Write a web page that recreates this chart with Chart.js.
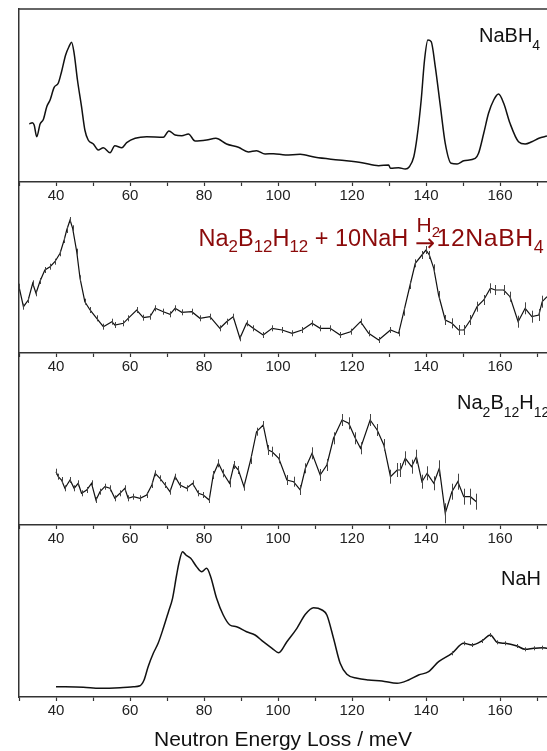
<!DOCTYPE html>
<html>
<head>
<meta charset="utf-8">
<script src="https://cdn.jsdelivr.net/npm/chart.js@4.4.0/dist/chart.umd.min.js"></script>
<style>
  html, body { margin: 0; padding: 0; background: #fff; width: 547px; height: 751px; overflow: hidden; }
  .panel { position: absolute; left: 0; }
  .lbl { position: absolute; font-family: "Liberation Sans", Arial, sans-serif; line-height: 1; white-space: nowrap; color: #111; font-size: 20px; }
  .lbl sub { font-size: 0.7em; vertical-align: -0.6em; line-height: 0; }
  .eq { color: #8b0a0a; font-size: 24px; }
  .eq sub { font-size: 0.72em; vertical-align: -0.38em; }
  .eq.gas sub { vertical-align: -0.3em; }
  .arrow { font-family: "DejaVu Sans", sans-serif; }
</style>
</head>
<body>
<canvas class="panel" id="p0" width="547" height="213" style="top:-1px"></canvas>
<canvas class="panel" id="p1" width="547" height="211" style="top:172px"></canvas>
<canvas class="panel" id="p2" width="547" height="212" style="top:343px"></canvas>
<canvas class="panel" id="p3" width="547" height="238" style="top:515px"></canvas>

<div class="lbl" style="left:479px;top:25px">NaBH<sub>4</sub></div>
<div class="lbl eq" style="left:198.5px;top:226.8px;font-size:23.5px">Na<sub>2</sub>B<sub>12</sub>H<sub>12</sub> + 10NaH</div>
<div class="lbl eq arrow" style="left:415px;top:230.5px">&rarr;</div>
<div class="lbl eq gas" style="left:416.5px;top:214px;font-size:21px">H<sub>2</sub></div>
<div class="lbl eq" style="left:436.5px;top:225.8px;font-size:24.8px;letter-spacing:0.6px">12NaBH<sub>4</sub></div>
<div class="lbl" style="left:457px;top:392px">Na<sub>2</sub>B<sub>12</sub>H<sub>12</sub></div>
<div class="lbl" style="left:501px;top:568px">NaH</div>

<script>
// x axis (meV)
const xMin = 30;
const xMax = 172.7;
const xTickValues = [30, 40, 50, 60, 70, 80, 90, 100, 110, 120, 130, 140, 150, 160, 170];
const xTickLabels = [40, 60, 80, 100, 120, 140, 160];

// NaBH4
const nabh4E = [32.8, 33.6, 34.1, 34.8, 35.7, 36.6, 37.5, 38.4, 39.5, 40.6, 41.5, 42.6, 43.5, 44.2, 44.9, 45.8, 46.9, 47.8, 48.7, 50.1,
  51.4, 52.8, 54.6, 55.9, 57.8, 59.1, 61.4, 64.5, 69.0, 70.5, 72.2, 74.0, 75.8, 77.6, 80.7, 83.2, 86.1, 89.3, 92.0, 94.2,
  96.5, 98.8, 102.0, 106.0, 110.1, 116.4, 122.7, 127.2, 129.9, 130.4, 132.6, 134.4, 135.5, 136.7, 137.6, 138.7, 139.6, 140.5, 141.4, 142.5,
  143.9, 145.2, 146.8, 148.4, 150.2, 153.3, 154.2, 155.6, 156.9, 158.3, 159.6, 161.0, 162.7, 165.0, 166.8, 168.6, 170.5, 172.7];
const nabh4I = [58, 59.3, 57, 45.3, 58, 62.7, 75.3, 82, 94.7, 98.7, 110.3, 127, 135.3, 139.7, 128.7, 102, 75.3, 52, 42, 38,
  32, 34.3, 29.3, 36.3, 34.3, 39.3, 43.7, 45.3, 44.7, 51, 47, 46.3, 48, 41, 42, 43.7, 38, 34.7, 30, 31.3,
  28, 28.3, 27, 27.7, 24.7, 22, 19.3, 16.3, 17, 13.7, 14.3, 13, 15.3, 25.3, 45.3, 82, 122, 142, 140.3, 115.3,
  75.3, 38.7, 18.7, 18, 21.3, 23.7, 28.7, 48.7, 68.7, 82, 88, 78.7, 58.7, 40.3, 38, 40.3, 43.7, 46];

// Na2B12H12 + 10NaH mixture
const mixE = [30, 31.2, 32.5, 33.7, 34.6, 35.7, 37.0, 38.4, 39.7, 41.1, 42.2, 42.9, 43.8, 44.5, 45.6, 46.5, 47.8, 49.2, 51.0, 52.8,
  55.1, 55.9, 58.2, 59.5, 61.8, 63.6, 65.4, 66.8, 69.0, 70.8, 72.2, 74.0, 76.7, 78.9, 81.6, 84.3, 86.1, 87.9, 89.7, 91.5,
  93.3, 96.0, 98.4, 101.1, 103.8, 106.5, 109.2, 111.4, 114.1, 116.8, 119.6, 122.3, 124.5, 127.2, 130.4, 132.6, 134.0, 135.7, 137.1, 138.9,
  140.0, 140.9, 142.1, 143.4, 145.2, 147.0, 148.8, 150.2, 152.0, 153.8, 155.6, 157.4, 158.7, 161.0, 162.7, 164.9, 166.8, 168.6, 170.5, 171.4, 172.7];
const mixI = [66.3, 46.3, 53, 69.7, 59.7, 72, 83, 86.3, 91.3, 99.7, 113, 123, 133, 124.7, 101.3, 74.7, 51.3, 43, 34.7, 26.3,
  31.3, 28, 29.7, 34.7, 43, 35.3, 36.3, 44.7, 41.3, 38.7, 44.7, 40.7, 41.3, 34.7, 36.3, 24.7, 31.3, 36.3, 14.7, 29.7,
  24.7, 18, 24.7, 23, 19.7, 23, 29.7, 24.7, 24.7, 18, 21.3, 31.3, 19.7, 13, 23, 19.7, 41.3, 68, 89.7, 98,
  103, 98, 84.7, 58, 33, 29.7, 23, 23, 33, 46.3, 53, 64.7, 63, 63, 56.3, 31.3, 44.7, 36.3, 38, 51.3, 56.3];
const mixErr = [3, 3, 3, 3, 3, 3, 3, 3, 3, 3, 3, 3, 3, 3, 3, 3, 3, 3, 3, 3,
  3, 3, 3, 3, 3, 3, 3, 3, 3, 3, 3, 3, 3, 3, 3, 3, 3, 3, 3, 3,
  3, 3, 3, 3, 3, 3, 3, 3, 3, 3, 3, 3, 3, 3, 3, 3, 4, 4, 4, 4,
  4, 4, 4, 4, 5, 5, 5, 5, 5, 5, 5, 5, 5, 5, 5, 6, 6, 6, 6, 6, 6];

// Na2B12H12
const b12E = [40, 40.6, 41.5, 42.4, 43.8, 44.9, 46.0, 46.9, 48.3, 49.6, 50.8, 51.9, 53.2, 54.6, 55.9, 57.3, 58.6, 59.5, 60.9, 62.7,
  64.5, 65.9, 66.8, 68.1, 69.5, 70.8, 72.2, 73.5, 75.3, 76.9, 78.5, 79.8, 81.4, 82.5, 83.9, 85.2, 86.9, 88.1, 89.3, 90.8,
  92.6, 94.2, 96.0, 97.4, 98.4, 100.2, 102.4, 104.2, 106.0, 107.4, 109.2, 111.4, 113.2, 115.0, 117.3, 119.1, 120.9, 122.3, 124.9, 126.8,
  128.6, 130.4, 132.2, 133.1, 134.4, 136.1, 137.4, 138.9, 140.3, 142.1, 143.6, 145.2, 147.0, 148.6, 150.2, 152.0, 153.6];
const b12I = [53.3, 48.3, 45, 36.7, 45, 36.7, 41.7, 31.7, 35, 41.7, 25, 33.3, 38.3, 36.7, 26.7, 31.7, 36.7, 26.7, 28.3, 26.7,
  30, 40, 51.7, 46.7, 40, 33.3, 48.3, 40, 36.7, 41.7, 31.7, 30, 25, 50, 61.7, 51.7, 41.7, 60, 55, 38.3,
  65, 93.3, 100, 75, 73.3, 66.7, 45, 43.3, 35, 56.7, 71.7, 50, 60, 86.7, 105, 101.7, 86.7, 76.7, 105, 95,
  80, 48.3, 55, 55, 66.7, 58.3, 68.3, 43.3, 51.7, 41.7, 56.7, 11.7, 33.3, 43.3, 28.3, 28.3, 23.3];
const b12Err = [3, 3, 3, 3, 3, 3, 3, 3, 3, 3, 3, 3, 3, 3, 3, 3, 3, 3, 3, 3,
  3, 3, 3, 3, 3, 3, 3, 3, 3, 3, 3, 3, 3, 4, 4, 4, 4, 4, 4, 4,
  4, 4, 4, 5, 5, 5, 5, 5, 5, 5, 6, 6, 6, 6, 6, 6, 6, 6, 6, 6,
  6, 7, 7, 7, 7, 7, 7, 7, 7, 7, 8, 10, 8, 8, 8, 8, 8];

// NaH
const nahE = [40, 47.4, 51.9, 57.3, 60.9, 62.7, 63.8, 64.9, 66.3, 67.6, 69.0, 70.4, 71.5, 72.6, 73.3, 74.2, 75.1, 76.4, 78.0, 79.4,
  80.7, 81.8, 83.4, 85.2, 87.0, 88.8, 91.5, 93.8, 96.0, 98.4, 100.2, 102.4, 105.1, 107.4, 109.6, 111.9, 113.2, 115.0, 116.8, 118.6,
  121.4, 124.5, 128.1, 132.2, 135.3, 138.0, 140.7, 143.4, 147.0, 150.2, 152.4, 155.1, 157.4, 159.2, 161.4, 164.6, 166.8, 169.1, 171.4, 172.7];
const nahI = [10.3, 9.7, 8.7, 9.3, 10.3, 11.3, 17, 30.3, 43.7, 53.7, 68.7, 85.3, 98.7, 122, 135.3, 145.3, 142, 138.7, 130.3, 125.3,
  128.7, 120.3, 98.7, 82, 72, 70.3, 65.3, 62, 55.3, 48.7, 44.3, 55.3, 68.7, 82.7, 89.3, 87, 82, 58.7, 33.7, 22.7,
  18.7, 17, 16, 13.7, 17, 22, 25.3, 35.3, 43.7, 53.7, 52, 56, 62, 54.7, 53.7, 51, 47.7, 48.7, 49.3, 48.7];
const nahErr = [0, 0, 0, 0, 0, 0, 0, 0, 0, 0, 0, 0, 0, 0, 0, 0, 0, 0, 0, 0,
  0, 0, 0, 0, 0, 0, 0, 0, 0, 0, 0, 0, 0, 0, 0, 0, 0, 0, 0, 0,
  0, 0, 0, 0, 0, 0, 0, 0, 2, 2, 2, 2, 2, 2, 2, 2, 2, 2, 2, 2];

Chart.defaults.font.family = '"Liberation Sans", Arial, sans-serif';
const axisColor = '#333';

// vertical error bars drawn from the dataset's own scale
const errorBars = {
    id: 'errorBars',
    afterDatasetsDraw(chart) {
        const ds = chart.data.datasets[0];
        if (!ds.errors) return;
        const { ctx, chartArea, scales } = chart;
        ctx.save();
        ctx.beginPath();
        ctx.rect(chartArea.left, chartArea.top, chartArea.width, chartArea.height);
        ctx.clip();
        ctx.strokeStyle = '#444';
        ctx.lineWidth = 1;
        ctx.beginPath();
        ds.data.forEach((p, i) => {
            const e = ds.errors[i];
            if (!e) return;
            const px = Math.round(scales.x.getPixelForValue(p.x)) + 0.5;
            ctx.moveTo(px, scales.y.getPixelForValue(p.y + e));
            ctx.lineTo(px, scales.y.getPixelForValue(p.y - e));
        });
        ctx.stroke();
        ctx.restore();
    }
};

// top frame line (only for the first panel)
const topLine = {
    id: 'topLine',
    afterDraw(chart, args, opts) {
        if (!opts.show) return;
        const { ctx, chartArea } = chart;
        ctx.save();
        ctx.strokeStyle = axisColor;
        ctx.lineWidth = 1.5;
        ctx.beginPath();
        ctx.moveTo(chartArea.left, chartArea.top);
        ctx.lineTo(chartArea.right, chartArea.top);
        ctx.stroke();
        ctx.restore();
    }
};

function makePanel(canvasId, xs, ys, errs, yMax, lineWidth, smooth, isBottom, hasTop) {
    const ctx = document.getElementById(canvasId).getContext('2d');
    return new Chart(ctx, {
        type: 'line',
        data: {
            datasets: [{
                data: xs.map((x, i) => ({ x: x, y: ys[i] })),
                errors: errs,
                borderColor: '#111',
                borderWidth: lineWidth,
                pointRadius: 0,
                cubicInterpolationMode: smooth ? 'monotone' : 'default',
                tension: 0,
                fill: false
            }]
        },
        options: {
            responsive: false,
            animation: false,
            devicePixelRatio: 1,
            layout: { padding: { top: 10, left: 0, right: 0, bottom: 0 } },
            plugins: {
                legend: { display: false },
                tooltip: { enabled: false },
                topLine: { show: hasTop }
            },
            scales: {
                x: {
                    type: 'linear',
                    min: xMin,
                    max: xMax,
                    afterBuildTicks: (scale) => {
                        scale.ticks = xTickValues.map(v => ({ value: v }));
                    },
                    afterFit: (scale) => { scale.height = isBottom ? 56 : 30; },
                    grid: { drawOnChartArea: false, drawTicks: true, tickLength: 4, tickColor: axisColor, tickWidth: 1.2 },
                    border: { display: true, color: axisColor, width: 1.5 },
                    ticks: {
                        autoSkip: false,
                        maxRotation: 0,
                        minRotation: 0,
                        padding: 1,
                        color: '#222',
                        font: { size: 15 },
                        callback: (value) => xTickLabels.includes(value) ? String(value) : ''
                    },
                    title: {
                        display: isBottom,
                        text: 'Neutron Energy Loss / meV',
                        color: '#111',
                        font: { size: 21 },
                        padding: { top: 7, bottom: 0 }
                    }
                },
                y: {
                    min: 0,
                    max: yMax,
                    afterFit: (scale) => { scale.width = 19; },
                    grid: { drawOnChartArea: false, drawTicks: false },
                    border: { display: true, color: axisColor, width: 1.5 },
                    ticks: { display: false }
                }
            }
        },
        plugins: [errorBars, topLine]
    });
}

makePanel('p0', nabh4E, nabh4I, null, 173, 1.5, true, false, true);
makePanel('p1', mixE, mixI, mixErr, 171, 1.2, false, false, false);
makePanel('p2', b12E, b12I, b12Err, 172, 1.2, false, false, false);
makePanel('p3', nahE, nahI, nahErr, 172, 1.5, true, true, false);
</script>
</body>
</html>
